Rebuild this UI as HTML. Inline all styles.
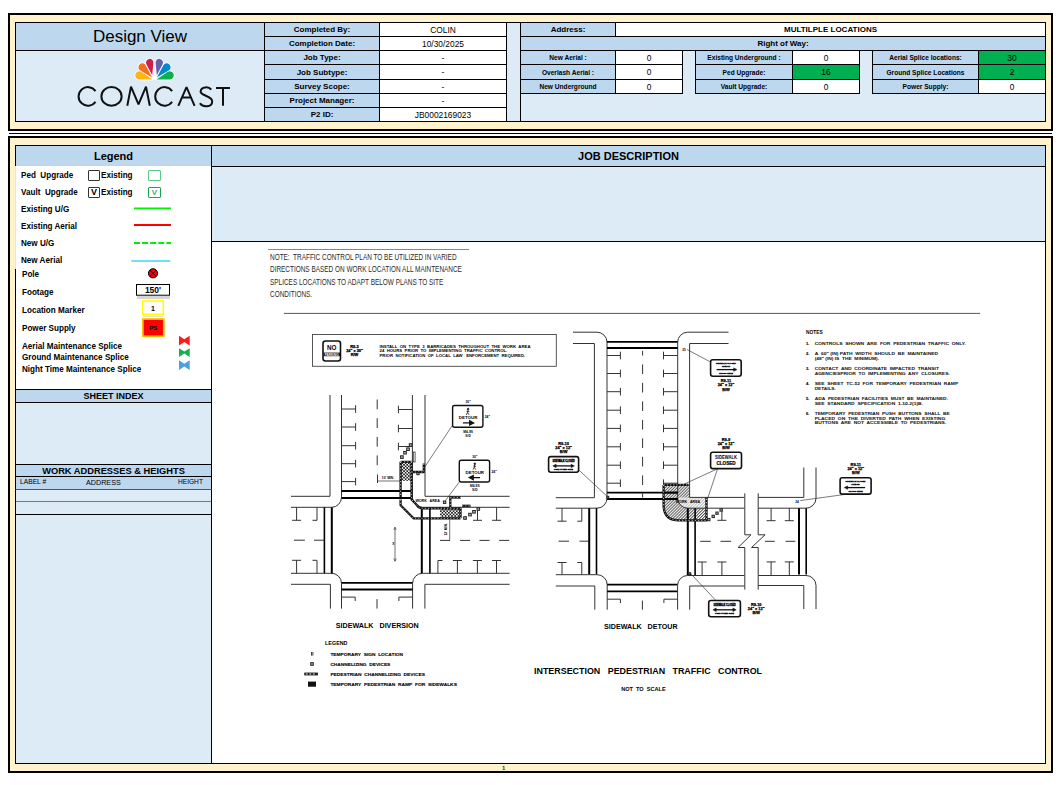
<!DOCTYPE html>
<html><head><meta charset="utf-8">
<style>
*{margin:0;padding:0;box-sizing:border-box}
html,body{width:1062px;height:785px;background:#fff;overflow:hidden;font-family:"Liberation Sans",sans-serif;color:#000}
.a{position:absolute}
.hb{background:#BDD7EE}
.lb{background:#DDEBF7}
.cr{background:#FFF2CC}
.w{background:#fff}
.g{background:#00B050}
.c{position:absolute;display:flex;align-items:center;justify-content:center;white-space:nowrap;border:1px solid #000}
.lbl{font-weight:bold;font-size:8px}
.sl{font-weight:bold;font-size:6.6px}
.v{font-size:8.4px}
.cal{font-family:"Liberation Sans",sans-serif;font-weight:bold}
.nt{font-size:9.2px;line-height:10px;color:#2a2a2a;transform:scaleX(.70);transform-origin:0 50%;white-space:nowrap}
.lg{position:absolute;font-weight:bold;font-size:9.6px;line-height:10px;transform:scaleX(.845);transform-origin:0 50%;white-space:nowrap}
</style></head><body>

<!-- ===== HEADER BOX ===== -->
<div class="a cr" style="left:8px;top:13px;width:1045px;height:118px;border:2px solid #000"></div>
<div class="a lb" style="left:15px;top:22px;width:1031px;height:100px;border:1px solid #000"></div>
<!-- design view -->
<div class="c hb" style="left:15px;top:22px;width:250px;height:29px;font-size:17px">Design View</div>

<!--LOGO-->
<svg class="a" style="left:0;top:0" width="240" height="120"><path d="M152.50 79.40 L141.62 71.92 A4.1 4.1 0 1 0 139.30 79.40 Z" stroke="#fff" stroke-width="1.6" stroke-linejoin="round" fill="#FCB711"/><path d="M152.20 77.60 L145.75 65.38 A3.9 3.9 0 1 0 140.31 70.56 Z" stroke="#fff" stroke-width="1.6" stroke-linejoin="round" fill="#F37021"/><path d="M152.20 75.30 L153.38 62.95 A3.7 3.7 0 1 0 146.43 64.32 Z" stroke="#fff" stroke-width="1.6" stroke-linejoin="round" fill="#CC1F4C"/><path d="M156.80 75.30 L162.57 64.32 A3.7 3.7 0 1 0 155.62 62.95 Z" stroke="#fff" stroke-width="1.6" stroke-linejoin="round" fill="#6460AA"/><path d="M156.80 77.60 L168.69 70.56 A3.9 3.9 0 1 0 163.25 65.38 Z" stroke="#fff" stroke-width="1.6" stroke-linejoin="round" fill="#0089D0"/><path d="M156.50 79.40 L169.70 79.40 A4.1 4.1 0 1 0 167.38 71.92 Z" stroke="#fff" stroke-width="1.6" stroke-linejoin="round" fill="#0DB14B"/><path d="M152.50 79.40 L141.62 71.92 A4.1 4.1 0 1 0 139.30 79.40 Z" fill="#FCB711"/><path d="M152.20 77.60 L145.75 65.38 A3.9 3.9 0 1 0 140.31 70.56 Z" fill="#F37021"/><path d="M152.20 75.30 L153.38 62.95 A3.7 3.7 0 1 0 146.43 64.32 Z" fill="#CC1F4C"/><path d="M156.80 75.30 L162.57 64.32 A3.7 3.7 0 1 0 155.62 62.95 Z" fill="#6460AA"/><path d="M156.80 77.60 L168.69 70.56 A3.9 3.9 0 1 0 163.25 65.38 Z" fill="#0089D0"/><path d="M156.50 79.40 L169.70 79.40 A4.1 4.1 0 1 0 167.38 71.92 Z" fill="#0DB14B"/><path d="M152.3 79.6 L154.5 71 L156.7 79.6Z" fill="#fff"/><path d="M95.52 91.07 A9.3 9.3 0 1 0 95.52 101.73 M121.60 96.4 A10.1 9.3 0 1 0 101.40 96.4 A10.1 9.3 0 1 0 121.60 96.4 M127.3 105.8 L131 86.6 L138.5 104.3 L146 86.6 L149.8 105.8 M172.12 91.07 A9.3 9.3 0 1 0 172.12 101.73 M178.3 105.8 L186.5 87.2 L194.6 105.8 M182 97.4 H191 M211.2 89.6 C209 86.5 201 86.2 200.6 91.5 C200.4 96 212.2 95.6 212.2 101.4 C212.2 107.5 202.3 107.3 199.9 103.3 M216 88.1 H230 M223 88.1 V105.8" fill="none" stroke="#111" stroke-width="2.0" stroke-linejoin="bevel"/></svg>

<!--/LOGO-->
<!-- left table -->
<div class="c hb lbl" style="left:264px;top:22px;width:116px;height:15px">Completed By:</div>
<div class="c w v" style="left:379px;top:22px;width:128px;height:15px">COLIN</div>
<div class="c hb lbl" style="left:264px;top:36px;width:116px;height:15px">Completion Date:</div>
<div class="c w v" style="left:379px;top:36px;width:128px;height:15px">10/30/2025</div>
<div class="c hb lbl" style="left:264px;top:50px;width:116px;height:15px">Job Type:</div>
<div class="c w v" style="left:379px;top:50px;width:128px;height:15px">-</div>
<div class="c hb lbl" style="left:264px;top:64px;width:116px;height:16px">Job Subtype:</div>
<div class="c w v" style="left:379px;top:64px;width:128px;height:16px">-</div>
<div class="c hb lbl" style="left:264px;top:79px;width:116px;height:15px">Survey Scope:</div>
<div class="c w v" style="left:379px;top:79px;width:128px;height:15px">-</div>
<div class="c hb lbl" style="left:264px;top:93px;width:116px;height:15px">Project Manager:</div>
<div class="c w v" style="left:379px;top:93px;width:128px;height:15px">-</div>
<div class="c hb lbl" style="left:264px;top:107px;width:116px;height:15px">P2 ID:</div>
<div class="c w v" style="left:379px;top:107px;width:128px;height:15px">JB0002169023</div>

<!-- right table -->
<div class="a" style="left:520px;top:22px;width:526px;height:100px;border-left:1px solid #000"></div>
<div class="c hb lbl" style="left:520px;top:22px;width:96px;height:15px">Address:</div>
<div class="c w lbl" style="left:615px;top:22px;width:431px;height:15px">MULTILPLE LOCATIONS</div>
<div class="c hb lbl" style="left:520px;top:36px;width:526px;height:15px">Right of Way:</div>

<div class="c hb sl" style="left:520px;top:50px;width:96px;height:15px">New Aerial :</div>
<div class="c w v" style="left:615px;top:50px;width:68px;height:15px">0</div>
<div class="c hb sl" style="left:520px;top:64px;width:96px;height:16px">Overlash Aerial :</div>
<div class="c w v" style="left:615px;top:64px;width:68px;height:16px">0</div>
<div class="c hb sl" style="left:520px;top:79px;width:96px;height:15px">New Underground</div>
<div class="c w v" style="left:615px;top:79px;width:68px;height:15px">0</div>

<div class="c hb sl" style="left:695px;top:50px;width:98px;height:15px">Existing Underground :</div>
<div class="c w v" style="left:792px;top:50px;width:68px;height:15px">0</div>
<div class="c hb sl" style="left:695px;top:64px;width:98px;height:16px">Ped Upgrade:</div>
<div class="c g v" style="left:792px;top:64px;width:68px;height:16px">16</div>
<div class="c hb sl" style="left:695px;top:79px;width:98px;height:15px">Vault Upgrade:</div>
<div class="c w v" style="left:792px;top:79px;width:68px;height:15px">0</div>

<div class="c hb sl" style="left:872px;top:50px;width:107px;height:15px">Aerial Splice locations:</div>
<div class="c g v" style="left:978px;top:50px;width:68px;height:15px">30</div>
<div class="c hb sl" style="left:872px;top:64px;width:107px;height:16px">Ground Splice Locations</div>
<div class="c g v" style="left:978px;top:64px;width:68px;height:16px">2</div>
<div class="c hb sl" style="left:872px;top:79px;width:107px;height:15px">Power Supply:</div>
<div class="c w v" style="left:978px;top:79px;width:68px;height:15px">0</div>

<!-- separator -->
<div class="a" style="left:9px;top:132.5px;width:1043px;height:1.5px;background:#000"></div>

<!-- ===== MAIN BOX ===== -->
<div class="a cr" style="left:8px;top:136px;width:1045px;height:637px;border:2px solid #000"></div>
<div class="a lb" style="left:15px;top:145px;width:1031px;height:619px;border:1px solid #000"></div>

<!-- legend panel -->
<div class="a w" style="left:16px;top:166px;width:195px;height:223px"></div>
<div class="c hb cal" style="left:15px;top:145px;width:197px;height:21px;font-size:11px;border-bottom:none">Legend</div>

<!-- legend content -->
<div id="leg">
<span class="lg" style="left:21px;top:170px">Ped&nbsp; Upgrade</span>
<span class="lg" style="left:101px;top:170px">Existing</span>
<span class="lg" style="left:21px;top:187px">Vault&nbsp; Upgrade</span>
<span class="lg" style="left:101px;top:187px">Existing</span>
<span class="lg" style="left:21px;top:204px">Existing U/G</span>
<span class="lg" style="left:21px;top:221px">Existing Aerial</span>
<span class="lg" style="left:21px;top:238px">New U/G</span>
<span class="lg" style="left:21px;top:255px">New Aerial</span>
<span class="lg" style="left:22px;top:269px">Pole</span>
<span class="lg" style="left:22px;top:287px">Footage</span>
<span class="lg" style="left:22px;top:305px">Location Marker</span>
<span class="lg" style="left:22px;top:323px">Power Supply</span>
<span class="lg" style="left:22px;top:341px">Aerial Maintenance Splice</span>
<span class="lg" style="left:22px;top:352px">Ground Maintenance Splice</span>
<span class="lg" style="left:22px;top:364px">Night Time Maintenance Splice</span>
</div>
<div class="a" style="left:88px;top:170px;width:12px;height:11px;border:1.3px solid #333;border-radius:1px"></div>
<div class="a" style="left:88px;top:187px;width:12px;height:11px;border:1.3px solid #333;border-radius:1px;font-weight:bold;font-size:9px;line-height:9.5px;text-align:center">V</div>
<div class="a" style="left:148px;top:170px;width:13px;height:11px;border:1.3px solid #5ACB85;border-radius:1px"></div>
<div class="a" style="left:148px;top:187px;width:13px;height:11px;border:1.3px solid #1FA356;border-radius:1px;font-size:8px;line-height:9px;text-align:center;color:#3BB06A;font-weight:bold">V</div>
<svg class="a" style="left:0;top:0" width="220" height="380">
<line x1="134" y1="208.3" x2="171" y2="208.3" stroke="#00F000" stroke-width="1.8"/>
<line x1="134" y1="225" x2="171" y2="225" stroke="#FF0000" stroke-width="1.8"/>
<line x1="134" y1="243" x2="171" y2="243" stroke="#00F000" stroke-width="1.8" stroke-dasharray="6 2.1"/>
<line x1="131.3" y1="261" x2="170.3" y2="261" stroke="#3CD8EE" stroke-width="1.6"/>
<circle cx="153" cy="273.3" r="4.6" fill="#FF0000" stroke="#000" stroke-width="1"/>
<line x1="149.8" y1="270.1" x2="156.2" y2="276.5" stroke="#000" stroke-width="0.9"/>
<line x1="156.2" y1="270.1" x2="149.8" y2="276.5" stroke="#000" stroke-width="0.9"/>
<rect x="137" y="296" width="33" height="3" fill="#bbb" opacity="0.6"/>
<rect x="136.5" y="284.5" width="33" height="10.7" fill="#fff" stroke="#000" stroke-width="1"/>
<text x="153" y="293.3" text-anchor="middle" font-family="Liberation Sans" font-weight="bold" font-size="8.5">150'</text>
<rect x="142.8" y="301" width="20.5" height="13.3" fill="#fff" stroke="#FFFF00" stroke-width="1.6"/>
<rect x="143" y="315.5" width="20" height="1.5" fill="#ccc" opacity=".6"/>
<text x="153" y="310.5" text-anchor="middle" font-family="Liberation Sans" font-weight="bold" font-size="7">1</text>
<rect x="142.8" y="319" width="21" height="17.3" fill="#FF0000" stroke="#FFC000" stroke-width="1.8"/>
<text x="153.3" y="330" text-anchor="middle" font-family="Liberation Sans" font-weight="bold" font-size="6">PS</text>
<g transform="translate(179,335.7)"><path d="M0 0 L5.3 3.5 L10.7 0 L10.7 9.7 L5.3 6.2 L0 9.7Z" fill="#FF1A1A"/></g>
<g transform="translate(179,348.2)"><path d="M0 0 L5.3 3.3 L10.7 0 L10.7 8.7 L5.3 5.4 L0 8.7Z" fill="#16B050"/></g>
<g transform="translate(179,360.2)"><path d="M0 0 L5.3 3.5 L10.7 0 L10.7 9.7 L5.3 6.2 L0 9.7Z" fill="#4BA0E0"/></g>
</svg>

<!-- job description -->
<div class="c hb cal" style="left:211px;top:145px;width:835px;height:22px;font-size:11px">JOB DESCRIPTION</div>
<div class="a" style="left:211px;top:166px;width:835px;height:76px;border-left:1px solid #000;border-bottom:1px solid #000"></div>
<div class="a w" style="left:211px;top:242px;width:834px;height:521px;border-left:1px solid #000"></div>

<!-- note -->
<div class="a" style="left:268px;top:249px;width:201px;height:1px;background:#888"></div>
<div class="a nt" style="left:270px;top:252px">NOTE:&nbsp; TRAFFIC CONTROL PLAN TO BE UTILIZED IN VARIED</div>
<div class="a nt" style="left:270px;top:264.3px">DIRECTIONS BASED ON WORK LOCATION ALL MAINTENANCE</div>
<div class="a nt" style="left:270px;top:276.6px">SPLICES LOCATIONS TO ADAPT BELOW PLANS TO SITE</div>
<div class="a nt" style="left:270px;top:288.9px">CONDITIONS.</div>

<svg class="a" style="left:0;top:0;font-family:'Liberation Sans',sans-serif" width="1062" height="785" viewBox="0 0 1062 785">
<defs>
<pattern id="xh" width="3.2" height="3.2" patternUnits="userSpaceOnUse"><rect width="3.2" height="3.2" fill="#f4f4f4"/><rect width="1.6" height="1.6" fill="#222"/><rect x="1.6" y="1.6" width="1.6" height="1.6" fill="#222"/></pattern>
<pattern id="dh" width="2.1" height="2.1" patternUnits="userSpaceOnUse" patternTransform="rotate(45)"><rect width="2.1" height="2.1" fill="#fff"/><rect x="0" y="0" width="0.9" height="2.1" fill="#444"/></pattern>
</defs>
<!--DRAW-->
<line x1="284" y1="313.4" x2="980" y2="313.4" stroke="#555" stroke-width="1.0"/>
<rect x="312.5" y="334.5" width="243.8" height="31.8" fill="none" stroke="#444" stroke-width="0.9"/>
<rect x="323" y="341" width="17.5" height="20" rx="2.5" fill="#fff" stroke="#111" stroke-width="1.6"/>
<text x="331.7" y="350.2" font-size="6.3" text-anchor="middle" font-weight="bold">NO</text>
<rect x="323.5" y="352.6" width="16.5" height="3.6" fill="#111"/>
<text x="331.7" y="355.5" font-size="3.0" text-anchor="middle" font-weight="bold" fill="#fff" textLength="14" lengthAdjust="spacingAndGlyphs">PARKING</text>
<text x="354.5" y="347.7" font-size="3.9" text-anchor="middle" font-weight="bold" stroke="#000" stroke-width="0.25">R8-3</text>
<text x="354.5" y="351.9" font-size="3.9" text-anchor="middle" font-weight="bold" stroke="#000" stroke-width="0.25">24" x 30"</text>
<text x="354.5" y="356.2" font-size="3.9" text-anchor="middle" font-weight="bold" stroke="#000" stroke-width="0.25">R/W</text>
<text x="379.5" y="347.7" font-size="3.8" text-anchor="start" font-weight="bold" textLength="151" lengthAdjust="spacingAndGlyphs">INSTALL&#160; ON&#160; TYPE&#160; 3&#160; BARRICADES&#160; THROUGHOUT&#160; THE&#160; WORK&#160; AREA</text>
<text x="379.5" y="352.09999999999997" font-size="3.8" text-anchor="start" font-weight="bold" textLength="127.8" lengthAdjust="spacingAndGlyphs">24&#160; HOURS&#160; PRIOR&#160; TO&#160; IMPLEMENTING&#160; TRAFFIC&#160; CONTROL.</text>
<text x="379.5" y="356.5" font-size="3.8" text-anchor="start" font-weight="bold" textLength="145.7" lengthAdjust="spacingAndGlyphs">PRIOR&#160; NOTIFICATION&#160; OF&#160; LOCAL&#160; LAW&#160;&#160; ENFORCEMENT&#160; REQUIRED.</text>
<path d="M330 395 V496.3 H291" stroke="#333333" stroke-width="1.0" fill="none"/>
<path d="M341.5 395 V497.5 A10 10 0 0 1 331.5 507.3 H291" stroke="#333333" stroke-width="1.0" fill="none"/>
<path d="M412.4 395 V497.5 A10 10 0 0 0 422.4 507.3 H509.6" stroke="#333333" stroke-width="1.0" fill="none"/>
<path d="M425 395 V496.3 H509.6" stroke="#333333" stroke-width="1.0" fill="none"/>
<line x1="341.5" y1="409" x2="355.6" y2="409" stroke="#333333" stroke-width="1.0"/>
<line x1="355.6" y1="405.2" x2="355.6" y2="412.8" stroke="#333333" stroke-width="1.0"/>
<line x1="341.5" y1="427" x2="355.6" y2="427" stroke="#333333" stroke-width="1.0"/>
<line x1="355.6" y1="423.2" x2="355.6" y2="430.8" stroke="#333333" stroke-width="1.0"/>
<line x1="341.5" y1="445.7" x2="355.6" y2="445.7" stroke="#333333" stroke-width="1.0"/>
<line x1="355.6" y1="441.9" x2="355.6" y2="449.5" stroke="#333333" stroke-width="1.0"/>
<line x1="341.5" y1="463.7" x2="355.6" y2="463.7" stroke="#333333" stroke-width="1.0"/>
<line x1="355.6" y1="459.9" x2="355.6" y2="467.5" stroke="#333333" stroke-width="1.0"/>
<line x1="341.5" y1="481.6" x2="355.6" y2="481.6" stroke="#333333" stroke-width="1.0"/>
<line x1="355.6" y1="477.8" x2="355.6" y2="485.40000000000003" stroke="#333333" stroke-width="1.0"/>
<line x1="412.4" y1="409.5" x2="398.4" y2="409.5" stroke="#333333" stroke-width="1.0"/>
<line x1="398.4" y1="405.7" x2="398.4" y2="413.3" stroke="#333333" stroke-width="1.0"/>
<line x1="412.4" y1="428.5" x2="398.4" y2="428.5" stroke="#333333" stroke-width="1.0"/>
<line x1="398.4" y1="424.7" x2="398.4" y2="432.3" stroke="#333333" stroke-width="1.0"/>
<line x1="412.4" y1="446.5" x2="398.4" y2="446.5" stroke="#333333" stroke-width="1.0"/>
<line x1="398.4" y1="442.7" x2="398.4" y2="450.3" stroke="#333333" stroke-width="1.0"/>
<line x1="377.2" y1="399.5" x2="377.2" y2="409.3" stroke="#333333" stroke-width="1.0"/>
<line x1="377.2" y1="418.2" x2="377.2" y2="428.0" stroke="#333333" stroke-width="1.0"/>
<line x1="377.2" y1="436.9" x2="377.2" y2="446.7" stroke="#333333" stroke-width="1.0"/>
<line x1="377.2" y1="455.4" x2="377.2" y2="465.2" stroke="#333333" stroke-width="1.0"/>
<line x1="377.5" y1="474.5" x2="377.5" y2="483" stroke="#333333" stroke-width="1.0"/>
<line x1="377.5" y1="481" x2="400.4" y2="481" stroke="#333" stroke-width="0.7"/>
<text x="388" y="479.3" font-size="3.3" text-anchor="middle" font-weight="bold">10' MIN.</text>
<line x1="341.5" y1="491" x2="412.4" y2="491" stroke="#000" stroke-width="1.8"/>
<line x1="341.5" y1="498" x2="412.4" y2="498" stroke="#000" stroke-width="1.8"/>
<line x1="296.6" y1="507.3" x2="296.6" y2="520.3" stroke="#333333" stroke-width="1.0"/>
<line x1="292.1" y1="520.3" x2="301.1" y2="520.3" stroke="#333333" stroke-width="1.0"/>
<line x1="296.6" y1="573.3" x2="296.6" y2="560.3" stroke="#333333" stroke-width="1.0"/>
<line x1="292.1" y1="560.3" x2="301.1" y2="560.3" stroke="#333333" stroke-width="1.0"/>
<line x1="317" y1="507.3" x2="317" y2="520.3" stroke="#333333" stroke-width="1.0"/>
<line x1="312.5" y1="520.3" x2="317" y2="520.3" stroke="#333333" stroke-width="1.0"/>
<line x1="317" y1="573.3" x2="317" y2="560.3" stroke="#333333" stroke-width="1.0"/>
<line x1="312.5" y1="560.3" x2="317" y2="560.3" stroke="#333333" stroke-width="1.0"/>
<line x1="293.9" y1="540.2" x2="304.9" y2="540.2" stroke="#333333" stroke-width="1.0"/>
<line x1="314" y1="540.2" x2="324.4" y2="540.2" stroke="#333333" stroke-width="1.0"/>
<path d="M291 573.3 H331 A10 10 0 0 1 341.5 583.3 V608.6" stroke="#333333" stroke-width="1.0" fill="none"/>
<path d="M291 584.3 H330.4 V608.6" stroke="#333333" stroke-width="1.0" fill="none"/>
<line x1="324.4" y1="507.3" x2="324.4" y2="573.3" stroke="#000" stroke-width="1.6"/>
<line x1="331.8" y1="507.3" x2="331.8" y2="573.3" stroke="#000" stroke-width="2.0"/>
<path d="M412.6 608.6 V583.3 A10 10 0 0 1 422.6 573.3 H509.6" stroke="#333333" stroke-width="1.0" fill="none"/>
<path d="M509.6 584.3 H424.9 V608.6" stroke="#333333" stroke-width="1.0" fill="none"/>
<line x1="341.5" y1="582.8" x2="412.6" y2="582.8" stroke="#000" stroke-width="1.8"/>
<line x1="341.5" y1="589.5" x2="412.6" y2="589.5" stroke="#000" stroke-width="1.8"/>
<line x1="341.5" y1="597.1" x2="355.2" y2="597.1" stroke="#333333" stroke-width="1.0"/>
<line x1="355.2" y1="597.1" x2="355.2" y2="601" stroke="#333333" stroke-width="1.0"/>
<line x1="412.6" y1="597.1" x2="398.9" y2="597.1" stroke="#333333" stroke-width="1.0"/>
<line x1="398.9" y1="597.1" x2="398.9" y2="601" stroke="#333333" stroke-width="1.0"/>
<line x1="377" y1="599.1" x2="377" y2="608.6" stroke="#333333" stroke-width="1.0"/>
<line x1="421.8" y1="507.3" x2="421.8" y2="573.3" stroke="#000" stroke-width="2.0"/>
<line x1="429.9" y1="507.3" x2="429.9" y2="573.3" stroke="#000" stroke-width="1.6"/>
<line x1="477.5" y1="507.3" x2="477.5" y2="520.3" stroke="#333333" stroke-width="1.0"/>
<line x1="473.0" y1="520.3" x2="482.0" y2="520.3" stroke="#333333" stroke-width="1.0"/>
<line x1="496.6" y1="507.3" x2="496.6" y2="520.3" stroke="#333333" stroke-width="1.0"/>
<line x1="492.1" y1="520.3" x2="501.1" y2="520.3" stroke="#333333" stroke-width="1.0"/>
<line x1="457.4" y1="573.3" x2="457.4" y2="560.5" stroke="#333333" stroke-width="1.0"/>
<line x1="452.9" y1="560.5" x2="461.9" y2="560.5" stroke="#333333" stroke-width="1.0"/>
<line x1="477.4" y1="573.3" x2="477.4" y2="560.5" stroke="#333333" stroke-width="1.0"/>
<line x1="472.9" y1="560.5" x2="481.9" y2="560.5" stroke="#333333" stroke-width="1.0"/>
<line x1="496.5" y1="573.3" x2="496.5" y2="560.5" stroke="#333333" stroke-width="1.0"/>
<line x1="492.0" y1="560.5" x2="501.0" y2="560.5" stroke="#333333" stroke-width="1.0"/>
<line x1="437.9" y1="573.3" x2="437.9" y2="560.5" stroke="#333333" stroke-width="1.0"/>
<line x1="437.9" y1="560.5" x2="442.5" y2="560.5" stroke="#333333" stroke-width="1.0"/>
<line x1="440" y1="540.4" x2="450" y2="540.4" stroke="#333333" stroke-width="1.0"/>
<line x1="460" y1="540.4" x2="470" y2="540.4" stroke="#333333" stroke-width="1.0"/>
<line x1="479.5" y1="540.4" x2="489.5" y2="540.4" stroke="#333333" stroke-width="1.0"/>
<line x1="499.2" y1="540.4" x2="509.2" y2="540.4" stroke="#333333" stroke-width="1.0"/>
<line x1="395" y1="527.4" x2="395" y2="561" stroke="#333" stroke-width="0.7"/>
<path d="M393.8 530 L395 527 L396.2 530" stroke="#333" stroke-width="0.6" fill="none"/>
<path d="M393.8 558.4 L395 561.4 L396.2 558.4" stroke="#333" stroke-width="0.6" fill="none"/>
<text x="393.3" y="545" font-size="3.2" text-anchor="middle" font-weight="bold">X</text>
<line x1="449.7" y1="519.5" x2="449.7" y2="540.4" stroke="#333" stroke-width="0.7"/>
<text x="446.6" y="529.4" font-size="3.3" text-anchor="middle" font-weight="bold" transform="rotate(-90 446.6 529.4)">12' MIN.</text>
<rect x="400.8" y="461.8" width="11" height="19" fill="url(#xh)"/>
<rect x="440" y="508.3" width="20" height="10" fill="url(#xh)"/>
<path d="M400.6 461.8 V497 M400.6 499.5 V505.2 L413.5 518.3 H460.5 M411.6 461.8 H400.6 M411.6 461.8 V499.5 L416.8 505 Q419 508.3 422 508.3 H460.5 V518.3" stroke="#111" stroke-width="2.3" fill="none" stroke-linejoin="round"/>
<path d="M400.6 461.8 V497 M400.6 499.5 V505.2 L413.5 518.3 H460.5 M411.6 461.8 H400.6 M411.6 461.8 V499.5 L416.8 505 Q419 508.3 422 508.3 H460.5 V518.3" stroke="#fff" stroke-width="0.7" fill="none" stroke-dasharray="1.2 2"/>
<path d="M450.3 508.3 V496.5" stroke="#111" stroke-width="2.3" fill="none" stroke-linejoin="round"/>
<path d="M450.3 508.3 V496.5" stroke="#fff" stroke-width="0.7" fill="none" stroke-dasharray="1.2 2"/>
<path d="M411.6 472 H423.8 V463.5" stroke="#111" stroke-width="2.3" fill="none" stroke-linejoin="round"/>
<path d="M411.6 472 H423.8 V463.5" stroke="#fff" stroke-width="0.7" fill="none" stroke-dasharray="1.2 2"/>
<path d="M462 505.8 H470.5" stroke="#111" stroke-width="2.3" fill="none" stroke-linejoin="round"/>
<path d="M462 505.8 H470.5" stroke="#fff" stroke-width="0.7" fill="none" stroke-dasharray="1.2 2"/>
<path d="M450.3 497.5 H460.7" stroke="#111" stroke-width="2.3" fill="none" stroke-linejoin="round"/>
<path d="M450.3 497.5 H460.7" stroke="#fff" stroke-width="0.7" fill="none" stroke-dasharray="1.2 2"/>
<rect x="409.3" y="443.7" width="2.6" height="2.6" fill="#bbb" stroke="#222" stroke-width="1"/>
<rect x="406.7" y="447.9" width="2.6" height="2.6" fill="#bbb" stroke="#222" stroke-width="1"/>
<rect x="403.7" y="451.4" width="2.6" height="2.6" fill="#bbb" stroke="#222" stroke-width="1"/>
<rect x="400.59999999999997" y="455.8" width="2.6" height="2.6" fill="#bbb" stroke="#222" stroke-width="1"/>
<rect x="463.7" y="516.7" width="2.6" height="2.6" fill="#bbb" stroke="#222" stroke-width="1"/>
<rect x="468.7" y="513.3000000000001" width="2.6" height="2.6" fill="#bbb" stroke="#222" stroke-width="1"/>
<rect x="472.7" y="510.5" width="2.6" height="2.6" fill="#bbb" stroke="#222" stroke-width="1"/>
<rect x="477.0" y="507.7" width="2.6" height="2.6" fill="#bbb" stroke="#222" stroke-width="1"/>
<rect x="416.9" y="472.5" width="2.2" height="2.2" fill="#bbb" stroke="#222" stroke-width="1"/>
<rect x="443.40000000000003" y="501.0" width="2.4" height="2.4" fill="#bbb" stroke="#222" stroke-width="1"/>
<rect x="413.3" y="452" width="1.8" height="10" fill="#fff" stroke="#222" stroke-width="0.7"/>
<text x="427.6" y="502.2" font-size="3.6" text-anchor="middle" font-weight="bold">WORK&#160;&#160; AREA</text>
<line x1="452.5" y1="425.2" x2="423.2" y2="469.3" stroke="#222" stroke-width="0.6"/>
<line x1="459.8" y1="481.3" x2="445.5" y2="500.5" stroke="#222" stroke-width="0.6"/>
<rect x="452.6" y="405.5" width="30.3" height="21.8" rx="2" fill="#fff" stroke="#111" stroke-width="1.4"/>
<path d="M468.1 409.1 m-0.9 0 a0.9 0.9 0 1 0 1.8 0 a0.9 0.9 0 1 0 -1.8 0" stroke="#111" stroke-width="0.6" fill="#111"/>
<path d="M468.1 410.1 L467.5 412.7 L466.3 414.9 M467.5 412.7 L469.1 414.9 M466.6 411.3 L469.40000000000003 411.8" stroke="#111" stroke-width="0.8" fill="none"/>
<text x="468.1" y="418.8" font-size="4.4" text-anchor="middle" font-weight="bold">DETOUR</text>
<path d="M462.90000000000003 422.9 H470.1 M469.70000000000005 420.8 L473.6 422.9 L469.70000000000005 425.0Z" stroke="#111" stroke-width="1.3" fill="#111"/>
<text x="468.1" y="403.3" font-size="3.3" text-anchor="middle" font-weight="bold">30"</text>
<text x="487.40000000000003" y="417.9" font-size="3.3" text-anchor="middle" font-weight="bold">24"</text>
<text x="468.1" y="432.5" font-size="3.3" text-anchor="middle" font-weight="bold">M4-9S</text>
<text x="468.1" y="436.7" font-size="3.3" text-anchor="middle" font-weight="bold">S/D</text>
<rect x="459.3" y="460.2" width="30.3" height="21.8" rx="2" fill="#fff" stroke="#111" stroke-width="1.4"/>
<path d="M474.8 463.8 m-0.9 0 a0.9 0.9 0 1 0 1.8 0 a0.9 0.9 0 1 0 -1.8 0" stroke="#111" stroke-width="0.6" fill="#111"/>
<path d="M474.8 464.8 L474.2 467.4 L473.0 469.59999999999997 M474.2 467.4 L475.8 469.59999999999997 M473.3 466.0 L476.1 466.5" stroke="#111" stroke-width="0.8" fill="none"/>
<text x="474.8" y="473.5" font-size="4.4" text-anchor="middle" font-weight="bold">DETOUR</text>
<path d="M480.0 477.59999999999997 H472.8 M473.2 475.5 L469.3 477.59999999999997 L473.2 479.7Z" stroke="#111" stroke-width="1.3" fill="#111"/>
<text x="474.8" y="458.0" font-size="3.3" text-anchor="middle" font-weight="bold">30"</text>
<text x="494.1" y="472.59999999999997" font-size="3.3" text-anchor="middle" font-weight="bold">24"</text>
<text x="474.8" y="487.2" font-size="3.3" text-anchor="middle" font-weight="bold">M4-9S</text>
<text x="474.8" y="491.4" font-size="3.3" text-anchor="middle" font-weight="bold">S/D</text>
<path d="M663.6 484.9 H689.6 V497.4 H706.5 V520.4 H679 Q663.6 520.4 663.6 505 Z" fill="url(#dh)"/>
<path d="M677.7 497.4 H706.5 V508.2 H687.7 A10 10 0 0 1 677.7 498.2 Z" fill="#fff" opacity="0.6"/>
<path d="M573 332.2 H597 A10 10 0 0 1 607 342.2 V497.8 A10 10 0 0 1 597 508.2 H555.8" stroke="#333333" stroke-width="1.0" fill="none"/>
<path d="M573 343.5 H594.4 V497.7 H555.8" stroke="#333333" stroke-width="1.0" fill="none"/>
<path d="M728.5 332.2 H687.7 A10 10 0 0 0 677.7 342.2 V498.2" stroke="#333333" stroke-width="1.0" fill="none"/>
<path d="M728.5 343.5 H689.6 V497.4 H744.3" stroke="#333333" stroke-width="1.0" fill="none"/>
<line x1="607" y1="341.8" x2="677.7" y2="341.8" stroke="#000" stroke-width="1.8"/>
<line x1="607" y1="348" x2="677.7" y2="348" stroke="#000" stroke-width="1.8"/>
<line x1="607" y1="355.5" x2="620.4" y2="355.5" stroke="#333333" stroke-width="1.0"/>
<line x1="620.4" y1="351.7" x2="620.4" y2="359.3" stroke="#333333" stroke-width="1.0"/>
<line x1="677.7" y1="355.5" x2="663.5" y2="355.5" stroke="#333333" stroke-width="1.0"/>
<line x1="663.5" y1="351.7" x2="663.5" y2="359.3" stroke="#333333" stroke-width="1.0"/>
<line x1="607" y1="373.5" x2="620.4" y2="373.5" stroke="#333333" stroke-width="1.0"/>
<line x1="620.4" y1="369.7" x2="620.4" y2="377.3" stroke="#333333" stroke-width="1.0"/>
<line x1="677.7" y1="373.5" x2="663.5" y2="373.5" stroke="#333333" stroke-width="1.0"/>
<line x1="663.5" y1="369.7" x2="663.5" y2="377.3" stroke="#333333" stroke-width="1.0"/>
<line x1="607" y1="391.7" x2="620.4" y2="391.7" stroke="#333333" stroke-width="1.0"/>
<line x1="620.4" y1="387.9" x2="620.4" y2="395.5" stroke="#333333" stroke-width="1.0"/>
<line x1="677.7" y1="391.7" x2="663.5" y2="391.7" stroke="#333333" stroke-width="1.0"/>
<line x1="663.5" y1="387.9" x2="663.5" y2="395.5" stroke="#333333" stroke-width="1.0"/>
<line x1="607" y1="410.2" x2="620.4" y2="410.2" stroke="#333333" stroke-width="1.0"/>
<line x1="620.4" y1="406.4" x2="620.4" y2="414.0" stroke="#333333" stroke-width="1.0"/>
<line x1="677.7" y1="410.2" x2="663.5" y2="410.2" stroke="#333333" stroke-width="1.0"/>
<line x1="663.5" y1="406.4" x2="663.5" y2="414.0" stroke="#333333" stroke-width="1.0"/>
<line x1="607" y1="428.4" x2="620.4" y2="428.4" stroke="#333333" stroke-width="1.0"/>
<line x1="620.4" y1="424.59999999999997" x2="620.4" y2="432.2" stroke="#333333" stroke-width="1.0"/>
<line x1="677.7" y1="428.4" x2="663.5" y2="428.4" stroke="#333333" stroke-width="1.0"/>
<line x1="663.5" y1="424.59999999999997" x2="663.5" y2="432.2" stroke="#333333" stroke-width="1.0"/>
<line x1="607" y1="446.8" x2="620.4" y2="446.8" stroke="#333333" stroke-width="1.0"/>
<line x1="620.4" y1="443.0" x2="620.4" y2="450.6" stroke="#333333" stroke-width="1.0"/>
<line x1="677.7" y1="446.8" x2="663.5" y2="446.8" stroke="#333333" stroke-width="1.0"/>
<line x1="663.5" y1="443.0" x2="663.5" y2="450.6" stroke="#333333" stroke-width="1.0"/>
<line x1="607" y1="465.2" x2="620.4" y2="465.2" stroke="#333333" stroke-width="1.0"/>
<line x1="620.4" y1="461.4" x2="620.4" y2="469.0" stroke="#333333" stroke-width="1.0"/>
<line x1="677.7" y1="465.2" x2="663.5" y2="465.2" stroke="#333333" stroke-width="1.0"/>
<line x1="663.5" y1="461.4" x2="663.5" y2="469.0" stroke="#333333" stroke-width="1.0"/>
<line x1="607" y1="483.2" x2="620.4" y2="483.2" stroke="#333333" stroke-width="1.0"/>
<line x1="620.4" y1="479.4" x2="620.4" y2="487.0" stroke="#333333" stroke-width="1.0"/>
<line x1="677.7" y1="483.2" x2="663.5" y2="483.2" stroke="#333333" stroke-width="1.0"/>
<line x1="663.5" y1="479.4" x2="663.5" y2="487.0" stroke="#333333" stroke-width="1.0"/>
<line x1="642.6" y1="350.9" x2="642.6" y2="355.6" stroke="#333333" stroke-width="1.0"/>
<line x1="642.6" y1="364.4" x2="642.6" y2="374.0" stroke="#333333" stroke-width="1.0"/>
<line x1="642.6" y1="382.9" x2="642.6" y2="392.5" stroke="#333333" stroke-width="1.0"/>
<line x1="642.6" y1="401.4" x2="642.6" y2="411.0" stroke="#333333" stroke-width="1.0"/>
<line x1="642.6" y1="419.9" x2="642.6" y2="429.5" stroke="#333333" stroke-width="1.0"/>
<line x1="642.6" y1="438.4" x2="642.6" y2="448.0" stroke="#333333" stroke-width="1.0"/>
<line x1="642.6" y1="456.9" x2="642.6" y2="466.5" stroke="#333333" stroke-width="1.0"/>
<line x1="642.6" y1="475.4" x2="642.6" y2="485.0" stroke="#333333" stroke-width="1.0"/>
<line x1="642.6" y1="493.5" x2="642.6" y2="497.5" stroke="#333333" stroke-width="1.0"/>
<line x1="607" y1="492.6" x2="677.7" y2="492.6" stroke="#000" stroke-width="1.8"/>
<line x1="607" y1="499" x2="677.7" y2="499" stroke="#000" stroke-width="1.8"/>
<line x1="562" y1="508.2" x2="562" y2="521.2" stroke="#333333" stroke-width="1.0"/>
<line x1="557.5" y1="521.2" x2="566.5" y2="521.2" stroke="#333333" stroke-width="1.0"/>
<line x1="562" y1="574.5" x2="562" y2="562.5" stroke="#333333" stroke-width="1.0"/>
<line x1="557.5" y1="562.5" x2="566.5" y2="562.5" stroke="#333333" stroke-width="1.0"/>
<line x1="581.8" y1="508.2" x2="581.8" y2="521.2" stroke="#333333" stroke-width="1.0"/>
<line x1="577.3" y1="521.2" x2="581.8" y2="521.2" stroke="#333333" stroke-width="1.0"/>
<line x1="581.8" y1="574.5" x2="581.8" y2="562.5" stroke="#333333" stroke-width="1.0"/>
<line x1="577.3" y1="562.5" x2="581.8" y2="562.5" stroke="#333333" stroke-width="1.0"/>
<line x1="558.5" y1="541.2" x2="569" y2="541.2" stroke="#333333" stroke-width="1.0"/>
<line x1="579.5" y1="541.2" x2="588.8" y2="541.2" stroke="#333333" stroke-width="1.0"/>
<line x1="589.2" y1="508.2" x2="589.2" y2="574.3" stroke="#000" stroke-width="2.0"/>
<line x1="596.5" y1="508.2" x2="596.5" y2="574.3" stroke="#000" stroke-width="1.6"/>
<path d="M555.8 574.7 H597 A10 10 0 0 1 607.2 584.9 V609.7" stroke="#333333" stroke-width="1.0" fill="none"/>
<path d="M555.8 586 H594.8 V609.7" stroke="#333333" stroke-width="1.0" fill="none"/>
<line x1="607.2" y1="584.7" x2="677.6" y2="584.7" stroke="#000" stroke-width="1.8"/>
<line x1="607.2" y1="591.3" x2="677.6" y2="591.3" stroke="#000" stroke-width="1.8"/>
<line x1="607.2" y1="599.2" x2="620.4" y2="599.2" stroke="#333333" stroke-width="1.0"/>
<line x1="620.4" y1="599.2" x2="620.4" y2="603" stroke="#333333" stroke-width="1.0"/>
<line x1="677.6" y1="599.2" x2="663.9" y2="599.2" stroke="#333333" stroke-width="1.0"/>
<line x1="663.9" y1="599.2" x2="663.9" y2="603" stroke="#333333" stroke-width="1.0"/>
<line x1="642.4" y1="600.5" x2="642.4" y2="609.7" stroke="#333333" stroke-width="1.0"/>
<path d="M677.6 609.7 V585.5 A10 10 0 0 1 687.6 575.5 H744.3" stroke="#333333" stroke-width="1.0" fill="none"/>
<path d="M744.3 586 H689.7 V609.7" stroke="#333333" stroke-width="1.0" fill="none"/>
<path d="M677.7 498.2 A10 10 0 0 0 687.7 508.2 H744.3" stroke="#333333" stroke-width="1.0" fill="none"/>
<line x1="687.8" y1="508.2" x2="687.8" y2="575.2" stroke="#000" stroke-width="2.0"/>
<line x1="695.1" y1="508.2" x2="695.1" y2="575.2" stroke="#000" stroke-width="1.6"/>
<line x1="721.9" y1="508.2" x2="721.9" y2="520.3" stroke="#333333" stroke-width="1.0"/>
<line x1="717.4" y1="520.3" x2="726.4" y2="520.3" stroke="#333333" stroke-width="1.0"/>
<line x1="702.1" y1="575.5" x2="702.1" y2="562" stroke="#333333" stroke-width="1.0"/>
<line x1="697.6" y1="562" x2="706.6" y2="562" stroke="#333333" stroke-width="1.0"/>
<line x1="721.9" y1="575.5" x2="721.9" y2="562" stroke="#333333" stroke-width="1.0"/>
<line x1="717.4" y1="562" x2="726.4" y2="562" stroke="#333333" stroke-width="1.0"/>
<line x1="700.2" y1="541.3" x2="710.8000000000001" y2="541.3" stroke="#333333" stroke-width="1.0"/>
<line x1="720.5" y1="541.3" x2="731.1" y2="541.3" stroke="#333333" stroke-width="1.0"/>
<path d="M744.8 493.3 V534.8 H751 L738.1 547.5 H744.8 V589.6" stroke="#333333" stroke-width="1.0" fill="none"/>
<path d="M758.2 493.3 V534.8 H765.1 L751.5 547.5 H758.2 V589.6" stroke="#333333" stroke-width="1.0" fill="none"/>
<path d="M758.3 497.4 H803.8 V467.5" stroke="#333333" stroke-width="1.0" fill="none"/>
<path d="M758.3 508.2 H806 A10 10 0 0 0 816 498.2 V467.5" stroke="#333333" stroke-width="1.0" fill="none"/>
<path d="M758.3 575.5 H806 A10 10 0 0 1 816 585.5 V609" stroke="#333333" stroke-width="1.0" fill="none"/>
<path d="M758.3 585.5 H803.8 V609" stroke="#333333" stroke-width="1.0" fill="none"/>
<line x1="799" y1="508.2" x2="799" y2="574.6" stroke="#000" stroke-width="2.0"/>
<line x1="806.2" y1="508.2" x2="806.2" y2="574.6" stroke="#000" stroke-width="1.6"/>
<line x1="771.1" y1="508.2" x2="771.1" y2="520.7" stroke="#333333" stroke-width="1.0"/>
<line x1="766.6" y1="520.7" x2="775.6" y2="520.7" stroke="#333333" stroke-width="1.0"/>
<line x1="771.1" y1="575.5" x2="771.1" y2="561.9" stroke="#333333" stroke-width="1.0"/>
<line x1="766.6" y1="561.9" x2="775.6" y2="561.9" stroke="#333333" stroke-width="1.0"/>
<line x1="789.3" y1="508.2" x2="789.3" y2="520.7" stroke="#333333" stroke-width="1.0"/>
<line x1="784.8" y1="520.7" x2="793.8" y2="520.7" stroke="#333333" stroke-width="1.0"/>
<line x1="789.3" y1="575.5" x2="789.3" y2="561.9" stroke="#333333" stroke-width="1.0"/>
<line x1="784.8" y1="561.9" x2="793.8" y2="561.9" stroke="#333333" stroke-width="1.0"/>
<line x1="765" y1="541.3" x2="774.8" y2="541.3" stroke="#333333" stroke-width="1.0"/>
<line x1="785.6" y1="541.3" x2="795.3" y2="541.3" stroke="#333333" stroke-width="1.0"/>
<line x1="663.6" y1="492.6" x2="677.7" y2="492.6" stroke="#000" stroke-width="1.8"/>
<line x1="663.6" y1="499" x2="677.7" y2="499" stroke="#000" stroke-width="1.8"/>
<path d="M663.6 484.9 H688.6 M663.6 484.9 V505 Q663.6 520.4 679 520.4 H706.5 V497.4" stroke="#111" stroke-width="2.3" fill="none" stroke-linejoin="round"/>
<path d="M663.6 484.9 H688.6 M663.6 484.9 V505 Q663.6 520.4 679 520.4 H706.5 V497.4" stroke="#fff" stroke-width="0.7" fill="none" stroke-dasharray="1.2 2"/>
<text x="688" y="503.4" font-size="3.6" text-anchor="middle" font-weight="bold">WORK&#160;&#160; AREA</text>
<rect x="707.65" y="518.45" width="2.3" height="2.3" fill="#bbb" stroke="#222" stroke-width="1"/>
<rect x="712.0500000000001" y="515.25" width="2.3" height="2.3" fill="#bbb" stroke="#222" stroke-width="1"/>
<rect x="715.85" y="512.0500000000001" width="2.3" height="2.3" fill="#bbb" stroke="#222" stroke-width="1"/>
<rect x="719.95" y="508.85" width="2.3" height="2.3" fill="#bbb" stroke="#222" stroke-width="1"/>
<rect x="548.6" y="456.6" width="30" height="15.7" rx="2.2" fill="#fff" stroke="#111" stroke-width="1.6"/>
<text x="563.6" y="462.1" font-size="2.6" text-anchor="middle" font-weight="bold" textLength="22" lengthAdjust="spacingAndGlyphs" stroke="#000" stroke-width="0.3">SIDEWALK CLOSED</text>
<path d="M554.6 465.90000000000003 H572.6" stroke="#111" stroke-width="1.3" fill="none"/>
<path d="M571.1 464.20000000000005 L574.4 465.90000000000003 L571.1 467.6Z" stroke="#111" stroke-width="0.5" fill="#111"/>
<path d="M556.1 464.20000000000005 L552.8000000000001 465.90000000000003 L556.1 467.6Z" stroke="#111" stroke-width="0.5" fill="#111"/>
<text x="563.6" y="470.0" font-size="2.4" text-anchor="middle" font-weight="bold" textLength="19" lengthAdjust="spacingAndGlyphs" stroke="#000" stroke-width="0.3">USE OTHER SIDE</text>
<text x="563.6" y="444.6" font-size="3.9" text-anchor="middle" font-weight="bold" stroke="#000" stroke-width="0.25">R9-10</text>
<text x="563.6" y="448.8" font-size="3.9" text-anchor="middle" font-weight="bold" stroke="#000" stroke-width="0.25">24" x 12"</text>
<text x="563.6" y="453.0" font-size="3.9" text-anchor="middle" font-weight="bold" stroke="#000" stroke-width="0.25">B/W</text>
<line x1="578.3" y1="469.5" x2="607" y2="496.2" stroke="#222" stroke-width="0.6"/>
<rect x="606.9" y="496.3" width="1.8" height="1.8" fill="#bbb" stroke="#222" stroke-width="1"/>
<rect x="710.6" y="359.7" width="30.6" height="16.6" rx="2.2" fill="#fff" stroke="#111" stroke-width="1.6"/>
<text x="725.9" y="364.3" font-size="2.4" text-anchor="middle" font-weight="bold" textLength="20" lengthAdjust="spacingAndGlyphs" stroke="#000" stroke-width="0.3">SIDEWALK CLOSED</text>
<text x="725.9" y="367.09999999999997" font-size="2.4" text-anchor="middle" font-weight="bold" stroke="#000" stroke-width="0.3">AHEAD</text>
<path d="M716.6 369.59999999999997 H735.2" stroke="#111" stroke-width="1.3" fill="none"/>
<path d="M733.7 367.9 L737.0 369.59999999999997 L733.7 371.29999999999995Z" stroke="#111" stroke-width="0.5" fill="#111"/>
<text x="725.9" y="373.7" font-size="2.4" text-anchor="middle" font-weight="bold" textLength="14" lengthAdjust="spacingAndGlyphs" stroke="#000" stroke-width="0.3">CROSS HERE</text>
<text x="726" y="382.2" font-size="3.9" text-anchor="middle" font-weight="bold" stroke="#000" stroke-width="0.25">R9-11</text>
<text x="726" y="386.4" font-size="3.9" text-anchor="middle" font-weight="bold" stroke="#000" stroke-width="0.25">24" x 12"</text>
<text x="726" y="390.59999999999997" font-size="3.9" text-anchor="middle" font-weight="bold" stroke="#000" stroke-width="0.25">B/W</text>
<line x1="710.6" y1="362" x2="687" y2="349.5" stroke="#222" stroke-width="0.6"/>
<text x="684" y="351.2" font-size="3.2" text-anchor="middle" font-weight="bold">25</text>
<rect x="710.6" y="452.2" width="30.9" height="16.4" rx="2.2" fill="#fff" stroke="#111" stroke-width="1.6"/>
<text x="726.0500000000001" y="459.2" font-size="4.6" text-anchor="middle" font-weight="bold" textLength="22" lengthAdjust="spacingAndGlyphs">SIDEWALK</text>
<text x="726.0500000000001" y="465.4" font-size="4.6" text-anchor="middle" font-weight="bold" font-weight="normal" stroke="#000" stroke-width="0.2">CLOSED</text>
<text x="726" y="440.7" font-size="3.9" text-anchor="middle" font-weight="bold" stroke="#000" stroke-width="0.25">R9-9</text>
<text x="726" y="444.9" font-size="3.9" text-anchor="middle" font-weight="bold" stroke="#000" stroke-width="0.25">24" x 12"</text>
<text x="726" y="449.09999999999997" font-size="3.9" text-anchor="middle" font-weight="bold" stroke="#000" stroke-width="0.25">B/W</text>
<line x1="717" y1="469" x2="684.4" y2="484" stroke="#222" stroke-width="0.6"/>
<line x1="717.5" y1="469" x2="707.7" y2="498.3" stroke="#222" stroke-width="0.6"/>
<rect x="840.1" y="477.7" width="31" height="16.4" rx="2.2" fill="#fff" stroke="#111" stroke-width="1.6"/>
<text x="855.6" y="482.3" font-size="2.4" text-anchor="middle" font-weight="bold" textLength="20" lengthAdjust="spacingAndGlyphs" stroke="#000" stroke-width="0.3">SIDEWALK CLOSED</text>
<text x="855.6" y="485.09999999999997" font-size="2.4" text-anchor="middle" font-weight="bold" stroke="#000" stroke-width="0.3">AHEAD</text>
<path d="M846.1 487.59999999999997 H865.1" stroke="#111" stroke-width="1.3" fill="none"/>
<path d="M847.6 485.9 L844.3000000000001 487.59999999999997 L847.6 489.29999999999995Z" stroke="#111" stroke-width="0.5" fill="#111"/>
<text x="855.6" y="491.7" font-size="2.4" text-anchor="middle" font-weight="bold" textLength="14" lengthAdjust="spacingAndGlyphs" stroke="#000" stroke-width="0.3">CROSS HERE</text>
<text x="855.8" y="465.90000000000003" font-size="3.9" text-anchor="middle" font-weight="bold" stroke="#000" stroke-width="0.25">R9-11</text>
<text x="855.8" y="470.1" font-size="3.9" text-anchor="middle" font-weight="bold" stroke="#000" stroke-width="0.25">24" x 12"</text>
<text x="855.8" y="474.3" font-size="3.9" text-anchor="middle" font-weight="bold" stroke="#000" stroke-width="0.25">B/W</text>
<line x1="848" y1="494" x2="800.2" y2="500.6" stroke="#222" stroke-width="0.6"/>
<text x="797" y="503.3" font-size="3.2" text-anchor="middle" font-weight="bold">24</text>
<rect x="708.7" y="600.5" width="31.7" height="16.3" rx="2.2" fill="#fff" stroke="#111" stroke-width="1.6"/>
<text x="724.5500000000001" y="606.0" font-size="2.6" text-anchor="middle" font-weight="bold" textLength="22" lengthAdjust="spacingAndGlyphs" stroke="#000" stroke-width="0.3">SIDEWALK CLOSED</text>
<path d="M714.7 609.8 H734.4000000000001" stroke="#111" stroke-width="1.3" fill="none"/>
<path d="M732.9000000000001 608.0999999999999 L736.2 609.8 L732.9000000000001 611.5Z" stroke="#111" stroke-width="0.5" fill="#111"/>
<path d="M716.2 608.0999999999999 L712.9000000000001 609.8 L716.2 611.5Z" stroke="#111" stroke-width="0.5" fill="#111"/>
<text x="724.5500000000001" y="613.9" font-size="2.4" text-anchor="middle" font-weight="bold" textLength="19" lengthAdjust="spacingAndGlyphs" stroke="#000" stroke-width="0.3">USE OTHER SIDE</text>
<text x="756.2" y="606.0" font-size="3.9" text-anchor="middle" font-weight="bold" stroke="#000" stroke-width="0.25">R9-10</text>
<text x="756.2" y="610.2" font-size="3.9" text-anchor="middle" font-weight="bold" stroke="#000" stroke-width="0.25">24" x 12"</text>
<text x="756.2" y="614.4000000000001" font-size="3.9" text-anchor="middle" font-weight="bold" stroke="#000" stroke-width="0.25">B/W</text>
<line x1="716" y1="600.6" x2="690.3" y2="573.2" stroke="#222" stroke-width="0.6"/>
<rect x="688.9" y="572.7" width="1.8" height="1.8" fill="#bbb" stroke="#222" stroke-width="1"/>
<text x="377.3" y="627.9" font-size="6.9" text-anchor="middle" font-weight="bold" textLength="83" lengthAdjust="spacingAndGlyphs">SIDEWALK&#160;&#160; DIVERSION</text>
<text x="640.8" y="628.6" font-size="6.9" text-anchor="middle" font-weight="bold" textLength="73.6" lengthAdjust="spacingAndGlyphs">SIDEWALK&#160;&#160; DETOUR</text>
<text x="325.1" y="645.3" font-size="4.6" text-anchor="start" font-weight="bold" textLength="22.4" lengthAdjust="spacingAndGlyphs">LEGEND</text>
<text x="330.4" y="656" font-size="4.2" text-anchor="start" font-weight="bold" font-weight="normal" stroke="#000" stroke-width="0.1" textLength="72.6" lengthAdjust="spacingAndGlyphs">TEMPORARY&#160; SIGN&#160; LOCATION</text>
<text x="330.4" y="665.7" font-size="4.2" text-anchor="start" font-weight="bold" font-weight="normal" stroke="#000" stroke-width="0.1" textLength="59.9" lengthAdjust="spacingAndGlyphs">CHANNELIZING&#160; DEVICES</text>
<text x="330.4" y="675.6" font-size="4.2" text-anchor="start" font-weight="bold" font-weight="normal" stroke="#000" stroke-width="0.1" textLength="94.5" lengthAdjust="spacingAndGlyphs">PEDESTRIAN&#160; CHANNELIZING&#160; DEVICES</text>
<text x="330.4" y="685.8" font-size="4.2" text-anchor="start" font-weight="bold" font-weight="normal" stroke="#000" stroke-width="0.1" textLength="126.5" lengthAdjust="spacingAndGlyphs">TEMPORARY&#160; PEDESTRIAN&#160; RAMP&#160; FOR&#160; SIDEWALKS</text>
<rect x="311" y="652" width="0.8" height="3.6" fill="#111"/><rect x="312.5" y="652" width="0.8" height="3.6" fill="#111"/>
<rect x="310.7" y="662.7" width="2.6" height="2.6" fill="#bbb" stroke="#222" stroke-width="1"/>
<rect x="304.3" y="672.6" width="13.6" height="2.8" fill="#111"/>
<path d="M305.8 674 H316.5" stroke="#fff" stroke-width="1" stroke-dasharray="2 1.5"/>
<rect x="308" y="681.6" width="8" height="5.1" fill="#111"/>
<text x="648" y="674.2" font-size="9.5" text-anchor="middle" font-weight="bold" textLength="228" lengthAdjust="spacingAndGlyphs">INTERSECTION&#160;&#160; PEDESTRIAN&#160;&#160; TRAFFIC&#160;&#160; CONTROL</text>
<text x="643.4" y="691.2" font-size="5.2" text-anchor="middle" font-weight="bold" textLength="44.5" lengthAdjust="spacingAndGlyphs">NOT&#160; TO&#160; SCALE</text>
<text x="806.1" y="334" font-size="4.8" text-anchor="start" font-weight="bold">NOTES</text>
<text x="806.1" y="344.8" font-size="4.1" text-anchor="start" font-weight="bold" font-weight="normal" stroke="#000" stroke-width="0.12">1.</text>
<text x="814.7" y="344.8" font-size="4.1" text-anchor="start" font-weight="bold" font-weight="normal" fill="#1a1a1a" stroke="#000" stroke-width="0.05" textLength="151.2" lengthAdjust="spacingAndGlyphs">CONTROLS&#160; SHOWN&#160; ARE&#160; FOR&#160; PEDESTRIAN&#160; TRAFFIC&#160; ONLY.</text>
<text x="806.1" y="355.0" font-size="4.1" text-anchor="start" font-weight="bold" font-weight="normal" stroke="#000" stroke-width="0.12">2.</text>
<text x="814.7" y="355.0" font-size="4.1" text-anchor="start" font-weight="bold" font-weight="normal" fill="#1a1a1a" stroke="#000" stroke-width="0.05" textLength="123.4" lengthAdjust="spacingAndGlyphs">A&#160; 60" (IN) PATH&#160; WIDTH&#160; SHOULD&#160; BE&#160; MAINTAINED</text>
<text x="814.7" y="360.0" font-size="4.1" text-anchor="start" font-weight="bold" font-weight="normal" fill="#1a1a1a" stroke="#000" stroke-width="0.05" textLength="64.4" lengthAdjust="spacingAndGlyphs">(48" (IN) IS&#160; THE&#160; MINIMUM).</text>
<text x="806.1" y="369.8" font-size="4.1" text-anchor="start" font-weight="bold" font-weight="normal" stroke="#000" stroke-width="0.12">3.</text>
<text x="814.7" y="369.8" font-size="4.1" text-anchor="start" font-weight="bold" font-weight="normal" fill="#1a1a1a" stroke="#000" stroke-width="0.05" textLength="124.3" lengthAdjust="spacingAndGlyphs">CONTACT&#160; AND&#160; COORDINATE&#160; IMPACTED&#160; TRANSIT</text>
<text x="814.7" y="374.6" font-size="4.1" text-anchor="start" font-weight="bold" font-weight="normal" fill="#1a1a1a" stroke="#000" stroke-width="0.05" textLength="135.1" lengthAdjust="spacingAndGlyphs">AGENCIESPRIOR&#160; TO&#160; IMPLEMENTING&#160; ANY&#160; CLOSURES.</text>
<text x="806.1" y="384.7" font-size="4.1" text-anchor="start" font-weight="bold" font-weight="normal" stroke="#000" stroke-width="0.12">4.</text>
<text x="814.7" y="384.7" font-size="4.1" text-anchor="start" font-weight="bold" font-weight="normal" fill="#1a1a1a" stroke="#000" stroke-width="0.05" textLength="143.5" lengthAdjust="spacingAndGlyphs">SEE&#160; SHEET&#160; TC-52&#160; FOR&#160; TEMPORARY&#160; PEDESTRIAN&#160; RAMP</text>
<text x="814.7" y="389.5" font-size="4.1" text-anchor="start" font-weight="bold" font-weight="normal" fill="#1a1a1a" stroke="#000" stroke-width="0.05" textLength="21.1" lengthAdjust="spacingAndGlyphs">DETAILS.</text>
<text x="806.1" y="399.7" font-size="4.1" text-anchor="start" font-weight="bold" font-weight="normal" stroke="#000" stroke-width="0.12">5.</text>
<text x="814.7" y="399.7" font-size="4.1" text-anchor="start" font-weight="bold" font-weight="normal" fill="#1a1a1a" stroke="#000" stroke-width="0.05" textLength="133.3" lengthAdjust="spacingAndGlyphs">ADA&#160; PEDESTRIAN&#160; FACILITIES&#160; MUST&#160; BE&#160; MAINTAINED.</text>
<text x="814.7" y="404.7" font-size="4.1" text-anchor="start" font-weight="bold" font-weight="normal" fill="#1a1a1a" stroke="#000" stroke-width="0.05" textLength="108.3" lengthAdjust="spacingAndGlyphs">SEE&#160; STANDARD&#160; SPECIFICATION&#160; 1-10.2(1)B.</text>
<text x="806.1" y="414.5" font-size="4.1" text-anchor="start" font-weight="bold" font-weight="normal" stroke="#000" stroke-width="0.12">6.</text>
<text x="814.7" y="414.5" font-size="4.1" text-anchor="start" font-weight="bold" font-weight="normal" fill="#1a1a1a" stroke="#000" stroke-width="0.05" textLength="135.1" lengthAdjust="spacingAndGlyphs">TEMPORARY&#160; PEDESTRIAN&#160; PUSH&#160; BUTTONS&#160; SHALL&#160; BE</text>
<text x="814.7" y="419.5" font-size="4.1" text-anchor="start" font-weight="bold" font-weight="normal" fill="#1a1a1a" stroke="#000" stroke-width="0.05" textLength="130.6" lengthAdjust="spacingAndGlyphs">PLACED&#160; ON&#160; THE&#160; DIVERTED&#160; PATH&#160; WHEN&#160; EXISTING</text>
<text x="814.7" y="424.4" font-size="4.1" text-anchor="start" font-weight="bold" font-weight="normal" fill="#1a1a1a" stroke="#000" stroke-width="0.05" textLength="131.5" lengthAdjust="spacingAndGlyphs">BUTTONS&#160; ARE&#160; NOT&#160; ACCESSIBLE&#160; TO&#160; PEDESTRIANS.</text>
<!--/DRAW-->
</svg>

<div id="pgn" class="a" style="left:502px;top:764px;font-size:6px;line-height:8px;font-weight:bold;color:#333">1</div>
<div class="a" style="left:15px;top:166px;width:1px;height:103px;background:#e4e4e4"></div>
<!-- sheet index -->
<div class="c hb" style="left:15px;top:389px;width:197px;height:14px;font-weight:bold;font-size:9px">SHEET INDEX</div>
<div class="a" style="left:15px;top:402px;width:197px;height:63px;border:1px solid #000"></div>
<div class="c hb" style="left:15px;top:464px;width:197px;height:13px;font-weight:bold;font-size:9.3px">WORK ADDRESSES &amp; HEIGHTS</div>
<div class="a hb" style="left:15px;top:476px;width:197px;height:14px;border:1px solid #000;border-bottom-color:#555"></div>
<div class="a" style="left:20px;top:478px;font-size:6.7px">LABEL #</div>
<div class="a" style="left:86px;top:478px;font-size:7.2px">ADDRESS</div>
<div class="a" style="left:178px;top:478px;font-size:6.6px">HEIGHT</div>
<div class="a" style="left:16px;top:501px;width:195px;height:1px;background:#777"></div>
<div class="a" style="left:16px;top:514px;width:195px;height:1px;background:#000"></div>

</body></html>
